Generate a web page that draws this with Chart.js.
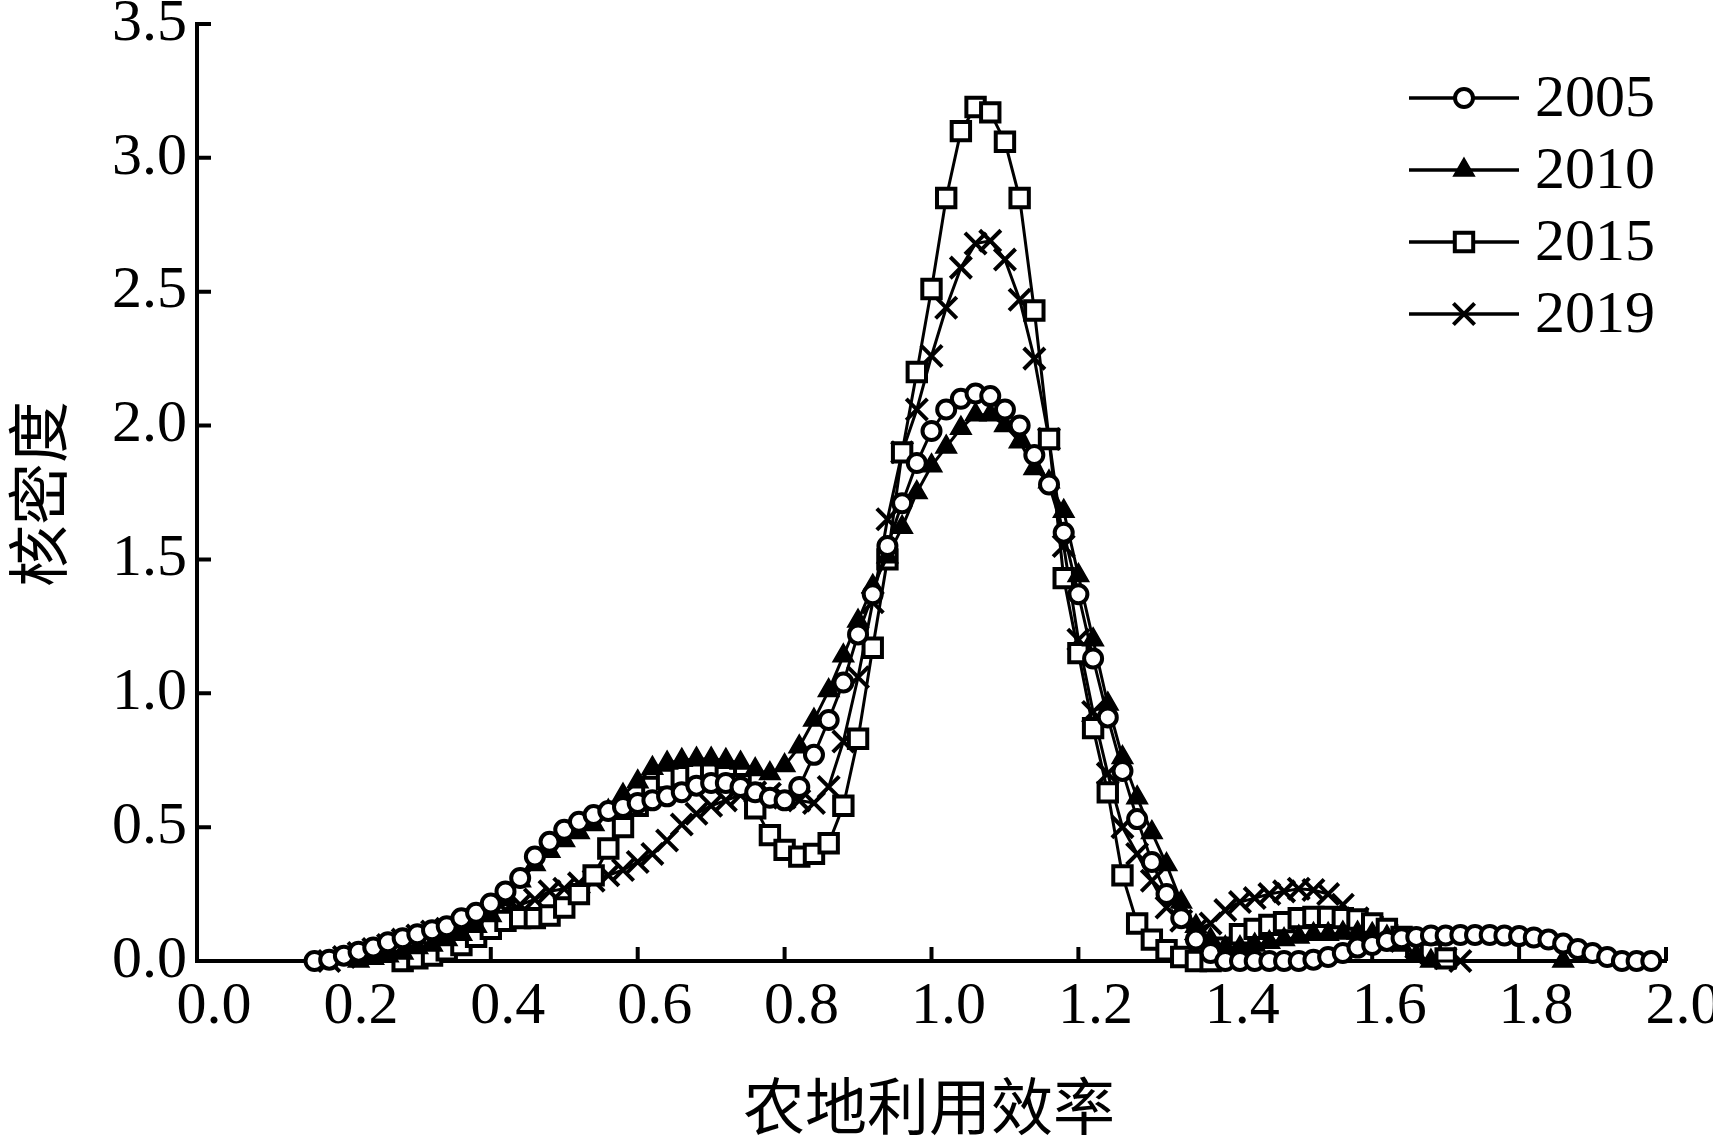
<!DOCTYPE html>
<html>
<head>
<meta charset="utf-8">
<script src="https://cdn.jsdelivr.net/npm/chart.js@4.4.1/dist/chart.umd.min.js"></script>
<style>
  html, body { margin: 0; padding: 0; background: #fff; }
  #wrap { width: 1713px; height: 1137px; }
</style>
</head>
<body>
<div id="wrap"><canvas id="kdeChart" width="1713" height="1137"></canvas></div>
<script>
// x grid (农地利用效率)
const xs = [
  0.14, 0.16, 0.18, 0.20, 0.22, 0.24, 0.26, 0.28, 0.30, 0.32,
  0.34, 0.36, 0.38, 0.40, 0.42, 0.44, 0.46, 0.48, 0.50, 0.52,
  0.54, 0.56, 0.58, 0.60, 0.62, 0.64, 0.66, 0.68, 0.70, 0.72,
  0.74, 0.76, 0.78, 0.80, 0.82, 0.84, 0.86, 0.88, 0.90, 0.92,
  0.94, 0.96, 0.98, 1.00, 1.02, 1.04, 1.06, 1.08, 1.10, 1.12,
  1.14, 1.16, 1.18, 1.20, 1.22, 1.24, 1.26, 1.28, 1.30, 1.32,
  1.34, 1.36, 1.38, 1.40, 1.42, 1.44, 1.46, 1.48, 1.50, 1.52,
  1.54, 1.56, 1.58, 1.60, 1.62, 1.64, 1.66, 1.68, 1.70, 1.72,
  1.74, 1.76, 1.78, 1.80, 1.82, 1.84, 1.86, 1.88, 1.90, 1.92,
  1.94, 1.96, 1.98
];

// kernel density
const kde2005 = [
  null, 0.0, 0.005, 0.02, 0.035, 0.05, 0.07, 0.085, 0.10, 0.115,
  0.13, 0.16, 0.18, 0.215, 0.26, 0.31, 0.39, 0.445, 0.49, 0.52,
  0.545, 0.56, 0.575, 0.59, 0.60, 0.615, 0.63, 0.655, 0.665, 0.665,
  0.65, 0.63, 0.61, 0.60, 0.65, 0.77, 0.90, 1.04, 1.22, 1.37,
  1.55, 1.71, 1.86, 1.98, 2.06, 2.10, 2.12, 2.11, 2.06, 2.00,
  1.89, 1.78, 1.60, 1.37, 1.13, 0.91, 0.71, 0.53, 0.37, 0.25,
  0.16, 0.08, 0.03, 0.0, 0.0, 0.0, 0.0, 0.0, 0.0, 0.005,
  0.015, 0.03, 0.05, 0.06, 0.075, 0.085, 0.09, 0.095, 0.095, 0.097,
  0.097, 0.097, 0.095, 0.093, 0.088, 0.08, 0.065, 0.045, 0.03, 0.015,
  0.0, 0.0, 0.0
];
const kde2010 = [
  null, null, null, null, 0.0, 0.01, 0.02, 0.03, 0.05, 0.06,
  0.08, 0.10, 0.13, 0.17, 0.23, 0.30, 0.36, 0.41, 0.45, 0.48,
  0.51, 0.56, 0.62, 0.67, 0.72, 0.74, 0.75, 0.755, 0.755, 0.75,
  0.74, 0.715, 0.70, 0.73, 0.80, 0.90, 1.01, 1.14, 1.27, 1.40,
  1.51, 1.62, 1.75, 1.85, 1.92, 1.99, 2.04, 2.04, 2.00, 1.94,
  1.84, 1.79, 1.68, 1.44, 1.20, 0.96, 0.76, 0.61, 0.48, 0.36,
  0.22, 0.13, 0.08, 0.05, 0.05, 0.06, 0.07, 0.08, 0.09, 0.10,
  0.10, 0.105, 0.105, 0.10, 0.09, 0.06, 0.02, 0.0, null, null,
  null, null, null, null, null, null, 0.0, null, null, null,
  null, null, null
];
const kde2015 = [
  null, null, null, null, null, null, null, 0.0, 0.01, 0.02,
  0.04, 0.06, 0.09, 0.12, 0.15, 0.16, 0.16, 0.17, 0.20, 0.25,
  0.32, 0.42, 0.50, 0.58, 0.65, 0.68, 0.69, 0.70, 0.70, 0.69,
  0.66, 0.57, 0.47, 0.415, 0.39, 0.40, 0.44, 0.58, 0.83, 1.17,
  1.50, 1.90, 2.20, 2.51, 2.85, 3.10, 3.19, 3.17, 3.06, 2.85,
  2.43, 1.95, 1.43, 1.15, 0.87, 0.63, 0.32, 0.14, 0.08, 0.04,
  0.015, 0.0, 0.0, 0.05, 0.10, 0.12, 0.135, 0.145, 0.16, 0.165,
  0.165, 0.16, 0.155, 0.14, 0.12, 0.09, 0.06, 0.03, 0.01, null,
  null, null, null, null, null, null, null, null, null, null,
  null, null, null
];
const kde2019 = [
  null, null, 0.0, 0.015, 0.03, 0.045, 0.06, 0.08, 0.095, 0.11,
  0.12, 0.13, 0.15, 0.17, 0.19, 0.21, 0.23, 0.26, 0.27, 0.29,
  0.30, 0.32, 0.34, 0.37, 0.40, 0.45, 0.51, 0.55, 0.58, 0.60,
  0.62, 0.63, 0.625, 0.61, 0.60, 0.59, 0.65, 0.82, 1.06, 1.34,
  1.65, 1.90, 2.06, 2.26, 2.44, 2.59, 2.68, 2.69, 2.62, 2.47,
  2.25, 1.95, 1.55, 1.20, 0.93, 0.70, 0.50, 0.40, 0.30, 0.20,
  0.15, 0.115, 0.14, 0.19, 0.22, 0.235, 0.25, 0.26, 0.27, 0.265,
  0.25, 0.21, 0.16, 0.13, 0.10, 0.075, 0.05, 0.03, 0.01, 0.0,
  null, null, null, null, null, null, null, null, null, null,
  null, null, null
];

const xTitle = '农地利用效率';
const yTitle = '核密度';

const SERIF = '"Liberation Serif", "Times New Roman", serif';
const CJK = '"Noto Sans CJK SC", sans-serif';

function pts(ys) {
  return xs.map((x, i) => ({ x: x, y: ys[i] }));
}

function series(label, ys, style) {
  return Object.assign({
    label: label,
    data: pts(ys),
    borderColor: '#000',
    borderWidth: 3,
    pointBorderColor: '#000',
    pointHoverRadius: 0,
    tension: 0,
    clip: false,
    fill: false
  }, style);
}

// ticks pointing into the plot
const inwardTicks = {
  id: 'inwardTicks',
  beforeDatasetsDraw(chart) {
    const ctx = chart.ctx;
    const xScale = chart.scales.x, yScale = chart.scales.y;
    const area = chart.chartArea;
    ctx.save();
    ctx.strokeStyle = '#000';
    ctx.lineWidth = 4;
    ctx.beginPath();
    yScale.ticks.forEach(t => {
      const y = yScale.getPixelForValue(t.value);
      ctx.moveTo(area.left, y);
      ctx.lineTo(area.left + 14, y);
    });
    xScale.ticks.forEach(t => {
      const x = xScale.getPixelForValue(t.value);
      ctx.moveTo(x, area.bottom);
      ctx.lineTo(x, area.bottom - 14);
    });
    ctx.stroke();
    ctx.restore();
  }
};

// axis titles + legend (line with marker in the middle)
const decorations = {
  id: 'decorations',
  afterDraw(chart) {
    const ctx = chart.ctx;
    ctx.save();
    ctx.fillStyle = '#000';
    ctx.font = '62px ' + CJK;
    ctx.textAlign = 'center';
    ctx.textBaseline = 'middle';
    ctx.fillText(xTitle, 929, 1106);
    ctx.translate(38, 494);
    ctx.rotate(-Math.PI / 2);
    ctx.fillText(yTitle, 0, 0);
    ctx.restore();

    chart.data.datasets.forEach((ds, i) => {
      const y = 98 + 72 * i;
      ctx.save();
      ctx.strokeStyle = '#000';
      ctx.lineWidth = 3.5;
      ctx.beginPath();
      ctx.moveTo(1409, y);
      ctx.lineTo(1519, y);
      ctx.stroke();
      ctx.fillStyle = ds.pointBackgroundColor;
      ctx.lineWidth = ds.pointBorderWidth;
      Chart.helpers.drawPoint(ctx, {
        pointStyle: ds.pointStyle,
        radius: ds.pointRadius,
        borderWidth: ds.pointBorderWidth,
        rotation: 0
      }, 1464, y);
      ctx.fillStyle = '#000';
      ctx.font = '60px ' + SERIF;
      ctx.textAlign = 'left';
      ctx.textBaseline = 'middle';
      ctx.fillText(ds.label, 1535, y + 2);
      ctx.restore();
    });
  }
};

new Chart(document.getElementById('kdeChart'), {
  type: 'line',
  data: {
    datasets: [
      series('2005', kde2005, { pointStyle: 'circle', pointRadius: 9, pointBackgroundColor: '#fff', pointBorderWidth: 4 }),
      series('2010', kde2010, { pointStyle: 'triangle', pointRadius: 12, pointBackgroundColor: '#000', pointBorderWidth: 1.5, spanGaps: true }),
      series('2015', kde2015, { pointStyle: 'rect', pointRadius: 13, pointBackgroundColor: '#fff', pointBorderWidth: 4 }),
      series('2019', kde2019, { pointStyle: 'crossRot', pointRadius: 15, pointBackgroundColor: '#000', pointBorderWidth: 4 })
    ]
  },
  options: {
    responsive: false,
    animation: false,
    devicePixelRatio: 1,
    layout: { padding: { top: 24, right: 47, left: 0, bottom: 0 } },
    plugins: {
      legend: { display: false },
      tooltip: { enabled: false }
    },
    scales: {
      x: {
        type: 'linear',
        min: 0,
        max: 2,
        grid: { display: false, drawTicks: false },
        border: { display: true, color: '#000', width: 4 },
        ticks: {
          stepSize: 0.2,
          color: '#000',
          padding: 10,
          labelOffset: 17,
          maxRotation: 0,
          font: { family: SERIF, size: 60 },
          callback: v => v.toFixed(1)
        },
        afterFit(scale) {
          scale.height = 176;
          scale.paddingLeft = 0;
          scale.paddingRight = 0;
        }
      },
      y: {
        min: 0,
        max: 3.5,
        grid: { display: false, drawTicks: false },
        border: { display: true, color: '#000', width: 4 },
        ticks: {
          stepSize: 0.5,
          color: '#000',
          padding: 10,
          font: { family: SERIF, size: 60 },
          callback: v => v.toFixed(1)
        },
        afterFit(scale) {
          scale.width = 197;
          scale.paddingTop = 0;
          scale.paddingBottom = 0;
        }
      }
    }
  },
  plugins: [inwardTicks, decorations]
});
</script>
</body>
</html>
